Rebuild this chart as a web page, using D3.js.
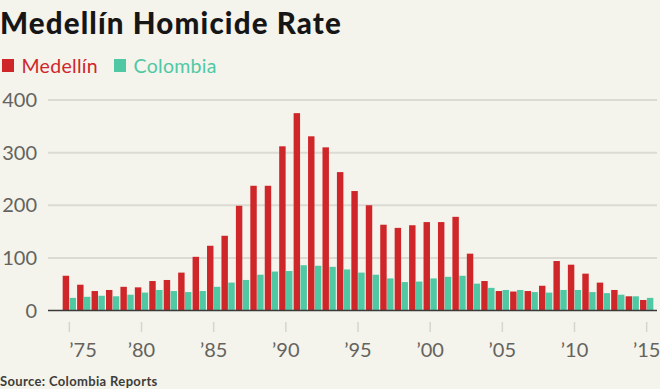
<html>
<head>
<script src="https://d3js.org/d3.v7.min.js"></script>
<style>
  body { margin: 0; background: #f4f3ec; }
  svg { display: block; }
  text { font-family: Lato, "Open Sans", sans-serif; }
</style>
</head>
<body>
<svg id="chart"></svg>
<script>
var width = 660, height = 389;

// datos (homicidios por 100.000 hab.)
var years = d3.range(1975, 2016);
var medellin = [66, 49, 37, 39, 45, 44, 56, 58, 72, 102, 123, 142, 199, 237, 237, 312, 375, 331, 310, 263, 227, 200, 163, 157, 162,
                168, 168, 178, 108, 56, 37, 36, 37, 47, 94, 87, 70, 53, 39, 27, 20];
var colombia = [24, 26, 28, 27, 30, 34, 39, 37, 35, 37, 45, 53, 58, 68, 74, 75, 86, 85, 83, 78, 72, 68, 61, 54, 55,
                61, 64, 66, 51, 43, 39, 39, 35, 34, 39, 39, 35, 33, 30, 27, 24];
var yTicks = [0, 100, 200, 300, 400];
var xTicks = [1975, 1980, 1985, 1990, 1995, 2000, 2005, 2010, 2015];

var red = "#cf2629", teal = "#50c8a4";

var svg = d3.select("#chart").attr("width", width).attr("height", height);

/* escalas */
var x = d3.scaleBand().domain(years).range([62.1, 653.9]).paddingInner(0.08).paddingOuter(0.04);
var sub = d3.scaleBand().domain(["m", "c"]).range([0, x.bandwidth()]).paddingInner(0.06);
var y = d3.scaleLinear().domain([0, 400]).range([310.5, 100]);
var cx = d => x(d) + x.bandwidth() / 2;

/* titulo y leyenda */
svg.append("text").attr("x", 0).attr("y", 34)
  .style("font-size", "29.5px").style("font-weight", 900).style("letter-spacing", "1.15px").style("fill", "#161616")
  .text("Medellín Homicide Rate");

var legend = [{name: "Medellín", color: red, x: 2}, {name: "Colombia", color: teal, x: 114}];
var lg = svg.selectAll(".lg").data(legend).enter().append("g").attr("class", "lg");
lg.append("rect").attr("x", d => d.x).attr("y", 59).attr("width", 12).attr("height", 13).attr("fill", d => d.color);
lg.append("text").attr("x", d => d.x + 19.5).attr("y", 73)
  .style("font-size", "19.5px").style("letter-spacing", "0.3px").style("fill", d => d.color).text(d => d.name);

/* grid */
svg.selectAll(".grid").data(yTicks.slice(1)).enter().append("line")
  .attr("x1", 48).attr("x2", 657).attr("y1", d => y(d)).attr("y2", d => y(d))
  .attr("stroke", "#dcdbd3").attr("stroke-width", 2);

svg.selectAll(".ylab").data(yTicks).enter().append("text")
  .attr("x", 37).attr("y", d => y(d)).attr("dy", "0.36em").attr("text-anchor", "end")
  .style("font-size", "20px").style("fill", "#64635e").text(d => d);

/* barras */
svg.selectAll(".m").data(years).enter().append("rect")
  .attr("x", (d) => x(d) + sub("m")).attr("width", sub.bandwidth())
  .attr("y", (d, i) => y(medellin[i])).attr("height", (d, i) => y(0) - y(medellin[i]))
  .attr("fill", red);
svg.selectAll(".c").data(years).enter().append("rect")
  .attr("x", (d) => x(d) + sub("c")).attr("width", sub.bandwidth())
  .attr("y", (d, i) => y(colombia[i])).attr("height", (d, i) => y(0) - y(colombia[i]))
  .attr("fill", teal);

/* eje x */
svg.append("line").attr("x1", 48).attr("x2", 657).attr("y1", y(0)).attr("y2", y(0))
  .attr("stroke", "#3a3a38").attr("stroke-width", 1.5);

svg.selectAll(".xt").data(xTicks).enter().append("line")
  .attr("x1", d => cx(d)).attr("x2", d => cx(d)).attr("y1", 322).attr("y2", 332)
  .attr("stroke", "#d6d5ce").attr("stroke-width", 1.5);

/* el primer label va alineado a la izquierda como en el original */
svg.selectAll(".xlab").data(xTicks).enter().append("text")
  .attr("x", d => cx(d))
  .attr("y", 357)
  .attr("text-anchor", (d, i) => i === 0 ? "start" : "middle")
  .style("font-size", "20px").style("fill", "#64635e")
  .text(d => "\u2019" + String(d).slice(2));

svg.append("text").attr("x", 0).attr("y", 386)
  .style("font-size", "13px").style("font-weight", 700).style("letter-spacing", "0.35px").style("fill", "#3d3d3a")
  .text("Source: Colombia Reports");
</script>
</body>
</html>
